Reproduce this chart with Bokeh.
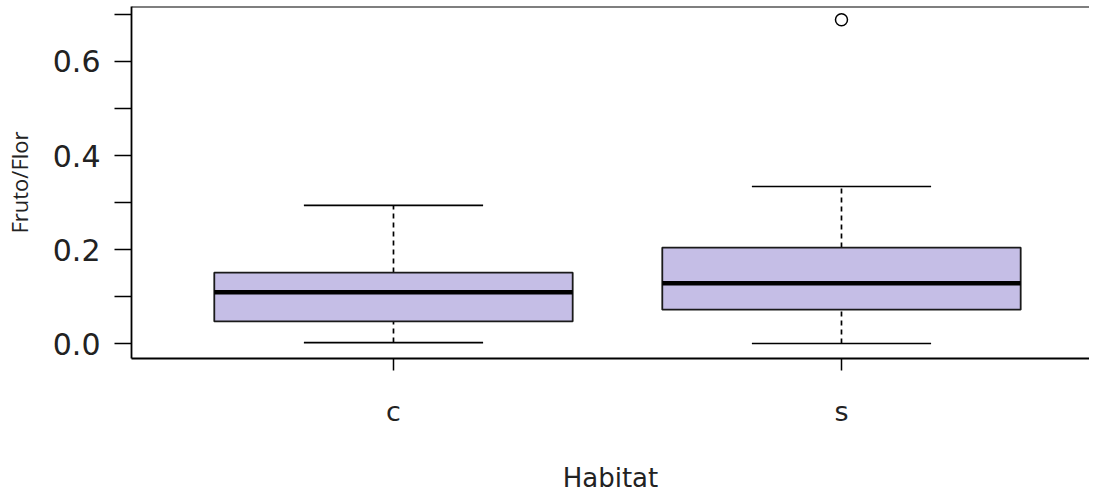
from bokeh.plotting import figure
from bokeh.models import FixedTicker, Range1d, Span, ColumnDataSource
from bokeh.embed import file_html
from bokeh.resources import INLINE

# ---- data ----
categories = ["c", "s"]
lower_whisker = [0.002, 0.000]
q1 = [0.047, 0.072]
median = [0.109, 0.128]
q3 = [0.151, 0.204]
upper_whisker = [0.294, 0.334]
outlier_cat = ["s"]
outlier_val = [0.689]

y_ticks = [0.0, 0.1, 0.2, 0.3, 0.4, 0.5, 0.6, 0.7]
y_tick_labels = ["0.0", "", "0.2", "", "0.4", "", "0.6", ""]

pos = {c: i + 1 for i, c in enumerate(categories)}
xs = [pos[c] for c in categories]
box_w = 0.8
cap_w = 0.4

src = ColumnDataSource(dict(
    x=xs, lw=lower_whisker, q1=q1, med=median, q3=q3, uw=upper_whisker,
    xl=[x - box_w / 2 for x in xs], xr=[x + box_w / 2 for x in xs],
    cl=[x - cap_w / 2 for x in xs], cr=[x + cap_w / 2 for x in xs],
))
out_src = ColumnDataSource(dict(x=[pos[c] for c in outlier_cat], y=outlier_val))

Y_END = 0.71702
p = figure(
    frame_width=958, frame_height=352,
    x_range=Range1d(0.4152, 2.5536), y_range=Range1d(-0.03191, Y_END),
    output_backend="svg", toolbar_location=None,
    min_border_left=130, min_border_right=0, min_border_top=6, min_border_bottom=10,
)
p.outline_line_color = None
p.xgrid.visible = False
p.ygrid.visible = False
p.background_fill_color = "white"

# whiskers (dashed)
p.segment(x0="x", y0="q3", x1="x", y1="uw", source=src, line_color="black",
          line_width=1.7, line_dash="5 4")
p.segment(x0="x", y0="lw", x1="x", y1="q1", source=src, line_color="black",
          line_width=1.7, line_dash="5 4")
# caps
p.segment(x0="cl", y0="uw", x1="cr", y1="uw", source=src, line_color="black", line_width=1.7)
p.segment(x0="cl", y0="lw", x1="cr", y1="lw", source=src, line_color="black", line_width=1.7)
# boxes
p.vbar(x="x", width=box_w, bottom="q1", top="q3", source=src,
       fill_color="#C5BEE6", line_color="#1a1a1a", line_width=1.8)
# medians
p.segment(x0="xl", y0="med", x1="xr", y1="med", source=src, line_color="black", line_width=4.5)
# outliers
p.scatter(x="x", y="y", source=out_src, marker="circle", size=12,
          fill_color="white", line_color="black", line_width=1.5)

# top border of the box
p.add_layout(Span(location=Y_END, dimension="width", line_color="black", line_width=1.8))

# axes
xa = p.xaxis[0]
xa.ticker = FixedTicker(ticks=xs)
xa.major_label_overrides = {pos[c]: c for c in categories}
xa.minor_tick_line_color = None
xa.major_tick_out = 12
xa.major_tick_in = 0
xa.axis_line_width = 1.8
xa.major_tick_line_width = 1.5
xa.major_label_text_font = "DejaVu Sans"
xa.major_label_text_font_size = "27px"
xa.major_label_text_color = "#222222"
xa.major_label_standoff = 25
xa.axis_label = "Habitat"
xa.axis_label_text_font = "DejaVu Sans"
xa.axis_label_text_font_size = "26px"
xa.axis_label_text_font_style = "normal"
xa.axis_label_text_color = "#222222"
xa.axis_label_standoff = 33

ya = p.yaxis[0]
ya.ticker = FixedTicker(ticks=y_ticks)
ya.major_label_overrides = {t: l for t, l in zip(y_ticks, y_tick_labels)}
ya.minor_tick_line_color = None
ya.major_tick_out = 17
ya.major_tick_in = 0
ya.axis_line_width = 1.8
ya.major_tick_line_width = 1.5
ya.major_label_text_font = "DejaVu Sans"
ya.major_label_text_font_size = "30px"
ya.major_label_text_color = "#222222"
ya.major_label_standoff = 14
ya.axis_label = "Fruto/Flor"
ya.axis_label_text_font = "Open Sans"
ya.axis_label_text_font_size = "22px"
ya.axis_label_text_font_style = "normal"
ya.axis_label_text_color = "#222222"
ya.axis_label_standoff = 16

open("out.html", "w").write(file_html(p, INLINE))
